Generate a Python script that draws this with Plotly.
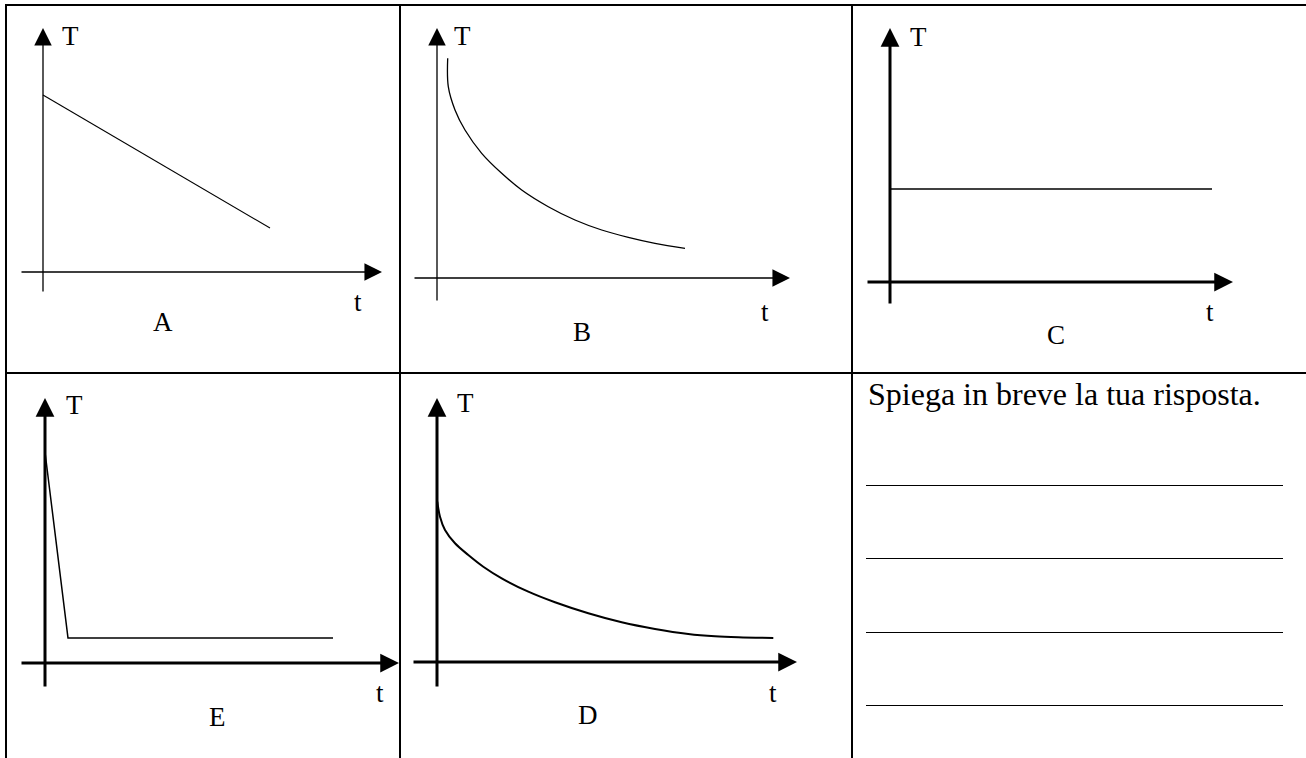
import plotly.graph_objects as go

W, H = 1306, 758

# ---------------- data (t = time, T = temperature, arbitrary units) ----------------
a_t = [0, 227]
a_T = [177, 44]

b_t = [10.7, 11.3, 18, 28, 44.7, 64.7, 84.7, 111.3, 138, 164.7, 191.3, 218, 248]
b_T = [219.7, 191.3, 168, 148, 124.7, 104.7, 88, 71.3, 58, 48, 40.7, 34.7, 29.7]

c_t = [0, 322]
c_T = [93, 93]

e_t = [0, 23, 288]
e_T = [211, 25, 25]

d_t = [0.3, 3, 8, 18, 31.3, 46.3, 64.7, 91.3, 118, 151.3, 184.7, 218, 251.3, 278, 301.3, 336.3]
d_T = [160.3, 145.3, 132, 118.7, 107, 95.3, 83.7, 70.3, 59.7, 48.7, 39.7, 33, 28, 25.7, 24.7, 24]

panel_names = ["A", "B", "C", "E", "D"]
axis_title_y = "T"
axis_title_x = "t"
prompt_text = "Spiega in breve la tua risposta."

# ---------------- layout of the panels (pixel boxes) ----------------
SLAB = "Liberation Serif, Times New Roman, serif"
SERIF = "Liberation Serif, Times New Roman, serif"

panels = [
    dict(name="A", t=a_t, T=a_T, box=(6, 5, 400, 373), origin=(43, 272),
         xax=(-23, 339), yax=(-21, 244), axw=1.3, aws=2.7, lw=1.1, shape="linear",
         font=SLAB, fs=27, Tpos=(27, 236), tpos=(315, -30), Lpos=(120, -50)),
    dict(name="B", t=b_t, T=b_T, box=(400, 5, 852, 373), origin=(437, 278),
         xax=(-24, 353), yax=(-24, 250), axw=1.3, aws=2.7, lw=1.3, shape="spline",
         font=SLAB, fs=27, Tpos=(26, 242), tpos=(328, -34), Lpos=(145, -54)),
    dict(name="C", t=c_t, T=c_T, box=(852, 5, 1306, 373), origin=(890, 282),
         xax=(-24, 343), yax=(-23, 254), axw=3, aws=1.25, lw=1.5, shape="linear",
         font=SERIF, fs=27, Tpos=(28, 245), tpos=(320, -30), Lpos=(166, -53)),
    dict(name="E", t=e_t, T=e_T, box=(6, 373, 400, 758), origin=(45, 663),
         xax=(-25, 354), yax=(-25, 265), axw=3, aws=1.25, lw=1.5, shape="linear",
         font=SERIF, fs=27, Tpos=(29, 258), tpos=(335, -30), Lpos=(172, -54)),
    dict(name="D", t=d_t, T=d_T, box=(400, 373, 852, 758), origin=(437, 662),
         xax=(-25, 360), yax=(-26, 264), axw=3, aws=1.25, lw=2, shape="spline",
         font=SERIF, fs=27, Tpos=(29, 259), tpos=(336, -31), Lpos=(151, -53)),
]

fig = go.Figure()
layout = dict(width=W, height=H, margin=dict(l=0, r=0, t=0, b=0),
              paper_bgcolor="white", plot_bgcolor="white", showlegend=False)
annotations = []
shapes = []

for i, p in enumerate(panels, start=1):
    sfx = "" if i == 1 else str(i)
    xr, yr = "x" + sfx, "y" + sfx
    x0, y0, x1, y1 = p["box"]
    ox, oy = p["origin"]
    layout["xaxis" + sfx] = dict(domain=[x0 / W, x1 / W], range=[x0 - ox, x1 - ox],
                                 visible=False, fixedrange=True, anchor=yr)
    layout["yaxis" + sfx] = dict(domain=[1 - y1 / H, 1 - y0 / H], range=[oy - y1, oy - y0],
                                 visible=False, fixedrange=True, anchor=xr)
    fig.add_trace(go.Scatter(x=p["t"], y=p["T"], mode="lines", xaxis=xr, yaxis=yr,
                             line=dict(color="black", width=p["lw"], shape=p["shape"],
                                       smoothing=1.0),
                             cliponaxis=False, hoverinfo="skip", name=p["name"]))
    # axes drawn as arrows
    common = dict(xref=xr, yref=yr, axref=xr, ayref=yr, showarrow=True, text="",
                  arrowhead=2, arrowwidth=p["axw"], arrowsize=p["aws"], arrowcolor="black",
                  standoff=0)
    annotations.append(dict(x=p["xax"][1], y=0, ax=p["xax"][0], ay=0, **common))
    annotations.append(dict(x=0, y=p["yax"][1], ax=0, ay=p["yax"][0], **common))
    # labels
    for txt, pos in ((axis_title_y, p["Tpos"]), (axis_title_x, p["tpos"]), (p["name"], p["Lpos"])):
        annotations.append(dict(x=pos[0], y=pos[1], xref=xr, yref=yr, text=txt,
                                showarrow=False, xanchor="center", yanchor="middle",
                                font=dict(family=p["font"], size=p["fs"], color="black")))

# text cell
annotations.append(dict(x=866 / W, y=1 - 394 / H, xref="paper", yref="paper",
                        text=prompt_text, showarrow=False, xanchor="left", yanchor="middle",
                        font=dict(family=SERIF, size=32, color="black")))
for yy in (485, 558, 632, 705):
    shapes.append(dict(type="line", xref="paper", yref="paper", x0=866 / W, x1=1283 / W,
                       y0=1 - (yy + 0.5) / H, y1=1 - (yy + 0.5) / H,
                       line=dict(color="black", width=1.2)))

# table grid
def hline(y, xa, xb):
    shapes.append(dict(type="line", xref="paper", yref="paper", x0=xa / W, x1=xb / W,
                       y0=1 - y / H, y1=1 - y / H, line=dict(color="black", width=2)))

def vline(x, ya, yb):
    shapes.append(dict(type="line", xref="paper", yref="paper", x0=x / W, x1=x / W,
                       y0=1 - ya / H, y1=1 - yb / H, line=dict(color="black", width=2)))

hline(5, 5, 1306)
hline(373, 5, 1306)
vline(6, 4, 758)
vline(400, 4, 758)
vline(852, 4, 758)

layout["annotations"] = annotations
layout["shapes"] = shapes
fig.update_layout(**layout)

fig.write_html("out.html", config={"displayModeBar": False, "staticPlot": True},
               post_script="document.body.style.margin='0';document.body.style.overflow='hidden';")
